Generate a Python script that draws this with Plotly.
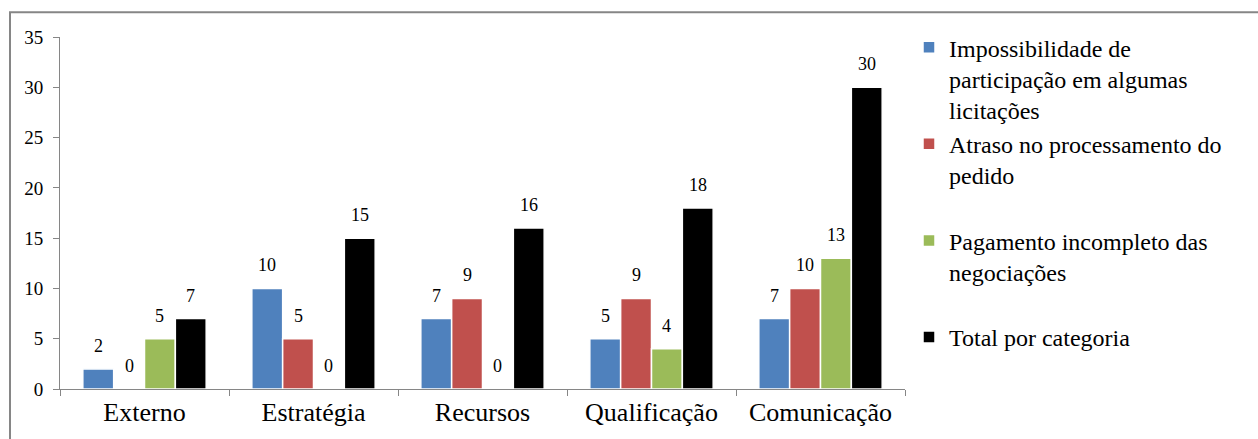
import plotly.graph_objects as go

categories = ["Externo", "Estratégia", "Recursos", "Qualificação", "Comunicação"]
series_names = [
    "Impossibilidade de<br>participação em algumas<br>licitações",
    "Atraso no processamento do<br>pedido<br>&nbsp;",
    "Pagamento incompleto das<br>negociações<br>&nbsp;",
    "Total por categoria",
]
impossibilidade = [2, 10, 7, 5, 7]
atraso = [0, 5, 9, 9, 10]
pagamento = [5, 0, 0, 4, 13]
total = [7, 15, 16, 18, 30]
series_values = [impossibilidade, atraso, pagamento, total]
colors = ["#4F81BD", "#C0504D", "#9BBB59", "#000000"]
y_ticks = [0, 5, 10, 15, 20, 25, 30, 35]

FONT = "'Times New Roman', 'Liberation Serif', 'DejaVu Serif', Times, serif"
bargap = 0.27
n = len(series_values)
w = (1 - bargap) / n

fig = go.Figure()
for name, vals, col in zip(series_names, series_values, colors):
    fig.add_trace(go.Bar(
        x=categories, y=vals, name=name,
        marker=dict(color=col, line=dict(color="white", width=1.5)),
    ))

annotations = []
for i, vals in enumerate(series_values):
    for j, v in enumerate(vals):
        annotations.append(dict(
            x=j + (i - (n - 1) / 2) * w, y=v, xref="x", yref="y",
            text=str(v), showarrow=False, yanchor="bottom", yshift=11,
            font=dict(family=FONT, size=18, color="black"),
        ))

W, H = 1258, 439
ml, mr, mt, mb = 60, 353, 37, 46
pw, ph = W - ml - mr, H - mt - mb

def px_x(p):
    return (p - ml) / pw

def px_y(p):
    return (H - mb - p) / ph

fig.update_layout(
    width=W, height=H,
    margin=dict(l=ml, r=mr, t=mt, b=mb),
    barmode="group", bargap=bargap, bargroupgap=0.0,
    plot_bgcolor="white", paper_bgcolor="white",
    font=dict(family=FONT, color="black"),
    showlegend=True,
    legend=dict(
        x=px_x(909), y=px_y(25), xanchor="left", yanchor="top",
        font=dict(family=FONT, size=24, color="black"),
        valign="top", traceorder="normal",
        bgcolor="rgba(0,0,0,0)", tracegroupgap=0,
        maxheight=430,
    ),
    xaxis=dict(
        showline=True, linecolor="#868686", linewidth=1,
        ticks="outside", tickson="boundaries", ticklen=6, tickcolor="#868686",
        tickfont=dict(family=FONT, size=26, color="black"),
        showgrid=False, fixedrange=True,
    ),
    yaxis=dict(
        range=[0, 35], tickvals=y_ticks,
        showline=True, linecolor="#868686", linewidth=1,
        ticks="outside", ticklen=6, tickcolor="#868686",
        tickfont=dict(family=FONT, size=19, color="black"),
        ticklabelstandoff=6,
        showgrid=False, zeroline=False,
    ),
    annotations=annotations,
    shapes=[dict(
        type="rect", xref="paper", yref="paper",
        x0=px_x(10), x1=px_x(1275), y0=px_y(460), y1=px_y(12),
        line=dict(color="#868686", width=2), fillcolor="rgba(0,0,0,0)",
        layer="below",
    )],
)

fig.write_html("out.html")
